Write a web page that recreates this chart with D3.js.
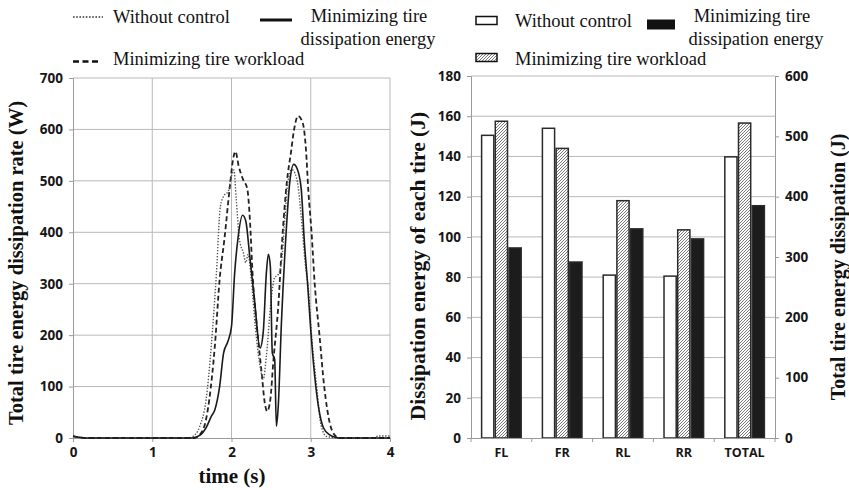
<!DOCTYPE html>
<html>
<head>
<meta charset="utf-8">
<script src="https://cdn.jsdelivr.net/npm/d3@7"></script>
<style>
  html, body { margin: 0; padding: 0; background: #fff; }
  svg { display: block; }
  .tick-label { font-family: "Open Sans", sans-serif; font-weight: 700; font-size: 13.5px; fill: #161616; }
  .cat-label { font-family: "Open Sans", sans-serif; font-weight: 700; font-size: 12.5px; fill: #161616; }
  .legend { font-family: "Liberation Serif", "Times New Roman", serif; font-size: 18.5px; fill: #111; }
  .title { font-family: "Liberation Serif", "Times New Roman", serif; font-weight: 700; font-size: 20px; fill: #111; }
</style>
</head>
<body>
<svg id="chart" width="849" height="490"></svg>
<script>
// ---- Left panel: total tire energy dissipation rate over time ----
const timeNoControl = [0, 0.15, 1.45, 1.55, 1.6, 1.68, 1.745, 1.81, 1.86, 1.9, 1.96, 2.0, 2.03, 2.06, 2.1, 2.15, 2.18, 2.21, 2.25, 2.3, 2.36, 2.4, 2.44, 2.5, 2.545, 2.59, 2.63, 2.67, 2.71, 2.76, 2.8, 2.84, 2.88, 2.93, 2.97, 3.01, 3.075, 3.13, 3.2, 3.4, 3.8, 3.85, 4.0];
const rateNoControl = [3, 0, 0, 8, 23, 75, 179, 321, 451, 470, 480, 510, 521, 464, 386, 360, 341, 357, 308, 217, 140, 114, 159, 269, 312, 318, 341, 419, 497, 522, 515, 490, 430, 340, 290, 200, 100, 25, 3, 0, 0, 4, 4];

const timeDissipation = [0, 0.18, 1.5, 1.6, 1.68, 1.745, 1.79, 1.85, 1.9, 1.955, 2.0, 2.04, 2.08, 2.14, 2.18, 2.23, 2.29, 2.36, 2.4, 2.44, 2.465, 2.49, 2.515, 2.545, 2.566, 2.59, 2.63, 2.684, 2.735, 2.785, 2.83, 2.88, 2.92, 2.96, 3.0, 3.05, 3.1, 3.16, 3.24, 3.32, 3.4, 4.0];
const rateDissipation = [4, 0, 0, 5, 20, 42, 55, 100, 165, 188, 217, 321, 386, 433, 422, 354, 269, 175, 205, 321, 357, 334, 165, 153, 23, 62, 224, 386, 497, 532, 523, 484, 380, 300, 210, 120, 58, 20, 6, 1, 0, 0];

const timeWorkload = [0, 0.18, 1.53, 1.64, 1.72, 1.79, 1.85, 1.91, 1.98, 2.02, 2.05, 2.09, 2.145, 2.2, 2.23, 2.27, 2.32, 2.38, 2.42, 2.45, 2.49, 2.53, 2.59, 2.64, 2.7, 2.75, 2.79, 2.84, 2.9, 2.94, 2.97, 3.01, 3.05, 3.11, 3.17, 3.24, 3.3, 3.36, 4.0];
const rateWorkload = [3, 0, 0, 16, 75, 179, 308, 386, 490, 542, 557, 529, 503, 484, 430, 308, 217, 127, 68, 52, 75, 153, 256, 386, 500, 555, 600, 626, 612, 560, 480, 400, 300, 200, 100, 29, 6, 0, 0];

const timeTicks = [0, 1, 2, 3, 4];
const rateTicks = [0, 100, 200, 300, 400, 500, 600, 700];

// ---- Right panel: dissipation energy per tire ----
const tireCategories = ["FL", "FR", "RL", "RR", "TOTAL"];
const energyNoControl = [150.5, 154, 81, 80.5, 466];
const energyWorkload = [157.5, 144, 118, 103.5, 522];
const energyDissipation = [94.5, 87.5, 104, 99, 385];
const energyTicks = [0, 20, 40, 60, 80, 100, 120, 140, 160, 180];
const totalTicks = [0, 100, 200, 300, 400, 500, 600];

const svg = d3.select("#chart");

// hatch fill for the workload bars
const defs = svg.append("defs");
const pat = defs.append("pattern")
  .attr("id", "hatch").attr("patternUnits", "userSpaceOnUse")
  .attr("width", 3).attr("height", 3);
pat.append("rect").attr("width", 3).attr("height", 3).attr("fill", "#fff");
pat.append("path").attr("d", "M-1,1 l2,-2 M0,3 l3,-3 M2,4 l2,-2")
  .attr("stroke", "#6a6a6a").attr("stroke-width", 0.9);

const gridColor = "#b8b8b8";
const axisColor = "#9a9a9a";

// ================= Left panel =================
const xT = d3.scaleLinear().domain([0, 4]).range([73, 390]);
const yR = d3.scaleLinear().domain([0, 700]).range([438, 78]);

const left = svg.append("g");
// grid
left.selectAll(".hg").data(rateTicks.slice(1)).join("line")
  .attr("x1", xT(0)).attr("x2", xT(4))
  .attr("y1", d => yR(d)).attr("y2", d => yR(d))
  .attr("stroke", gridColor).attr("stroke-width", 1);
left.selectAll(".vg").data(timeTicks.slice(1)).join("line")
  .attr("x1", d => xT(d)).attr("x2", d => xT(d))
  .attr("y1", yR(0)).attr("y2", yR(700))
  .attr("stroke", gridColor).attr("stroke-width", 1);

// axes
const axL = left.append("g").attr("transform", `translate(${xT(0)},0)`)
  .call(d3.axisLeft(yR).tickValues(rateTicks).tickSize(4).tickPadding(6));
const axB = left.append("g").attr("transform", `translate(0,${yR(0)})`)
  .call(d3.axisBottom(xT).tickValues(timeTicks).tickSize(4).tickPadding(5).tickFormat(d3.format("d")));
[axL, axB].forEach(a => {
  a.select(".domain").attr("stroke", axisColor);
  a.selectAll(".tick line").attr("stroke", axisColor);
  a.selectAll(".tick text").attr("class", "tick-label");
});

const line = d3.line().curve(d3.curveMonotoneX).x(d => xT(d[0])).y(d => yR(d[1]));
const series = [
  { t: timeWorkload, v: rateWorkload, dash: "5,3", width: 1.8, color: "#222" },
  { t: timeNoControl, v: rateNoControl, dash: "1.4,1.6", width: 1.4, color: "#555" },
  { t: timeDissipation, v: rateDissipation, dash: null, width: 1.6, color: "#1a1a1a" }
];
series.forEach(s => {
  left.append("path")
    .datum(s.t.map((t, i) => [t, s.v[i]]))
    .attr("d", line)
    .attr("fill", "none")
    .attr("stroke", s.color)
    .attr("stroke-width", s.width)
    .attr("stroke-dasharray", s.dash)
    .attr("stroke-linejoin", "round");
});

left.append("text").attr("class", "title")
  .attr("transform", `translate(23,263) rotate(-90)`)
  .attr("text-anchor", "middle")
  .style("font-size", "20.5px")
  .text("Total tire energy dissipation rate (W)");
left.append("text").attr("class", "title")
  .attr("x", 232).attr("y", 483).attr("text-anchor", "middle")
  .style("font-size", "21px")
  .text("time (s)");

// left legend
const lg = svg.append("g");
lg.append("line").attr("x1", 73).attr("x2", 103).attr("y1", 17).attr("y2", 17)
  .attr("stroke", "#333").attr("stroke-width", 1.6).attr("stroke-dasharray", "1.6,1.6");
lg.append("text").attr("class", "legend").attr("x", 113).attr("y", 23).text("Without control");
lg.append("line").attr("x1", 260).attr("x2", 292).attr("y1", 20).attr("y2", 20)
  .attr("stroke", "#111").attr("stroke-width", 3);
lg.append("text").attr("class", "legend").attr("x", 369).attr("y", 22).attr("text-anchor", "middle").text("Minimizing tire");
lg.append("text").attr("class", "legend").attr("x", 368).attr("y", 45).attr("text-anchor", "middle").text("dissipation energy");
lg.append("line").attr("x1", 73).attr("x2", 101).attr("y1", 61.5).attr("y2", 61.5)
  .attr("stroke", "#111").attr("stroke-width", 2.6).attr("stroke-dasharray", "6,3.5");
lg.append("text").attr("class", "legend").attr("x", 113).attr("y", 65).text("Minimizing tire workload");

// ================= Right panel =================
const x0 = d3.scaleBand().domain(tireCategories).range([471, 775]).padding(0);
const seriesKeys = ["none", "workload", "dissipation"];
const x1 = d3.scaleBand().domain(seriesKeys).range([0, x0.bandwidth()]).paddingInner(0).paddingOuter(0.72);
const yE = d3.scaleLinear().domain([0, 180]).range([438, 76]);
const yTot = d3.scaleLinear().domain([0, 600]).range([438, 76]);

const right = svg.append("g");
right.selectAll(".hg").data(energyTicks.slice(1)).join("line")
  .attr("x1", 471).attr("x2", 775)
  .attr("y1", d => yE(d)).attr("y2", d => yE(d))
  .attr("stroke", gridColor).attr("stroke-width", 1);

const fills = { none: "#fff", workload: "url(#hatch)", dissipation: "#1c1c1c" };
const values = { none: energyNoControl, workload: energyWorkload, dissipation: energyDissipation };
const barData = [];
tireCategories.forEach((c, i) => {
  seriesKeys.forEach(k => barData.push({ cat: c, key: k, value: values[k][i] }));
});
right.selectAll(".bar").data(barData).join("rect")
  .attr("x", d => x0(d.cat) + x1(d.key) + 0.75)
  .attr("width", x1.bandwidth() - 1.5)
  .attr("y", d => (d.cat === "TOTAL" ? yTot(d.value) : yE(d.value)))
  .attr("height", d => 438 - (d.cat === "TOTAL" ? yTot(d.value) : yE(d.value)))
  .attr("fill", d => fills[d.key])
  .attr("stroke", "#2a2a2a").attr("stroke-width", 1.5);

const axE = right.append("g").attr("transform", "translate(471,0)")
  .call(d3.axisLeft(yE).tickValues(energyTicks).tickSize(4).tickPadding(6));
const axT = right.append("g").attr("transform", "translate(775,0)")
  .call(d3.axisRight(yTot).tickValues(totalTicks).tickSize(4).tickPadding(6));
const axC = right.append("g").attr("transform", "translate(0,438)")
  .call(d3.axisBottom(x0).tickSize(0).tickPadding(10));
[axE, axT, axC].forEach(a => {
  a.select(".domain").attr("stroke", axisColor);
  a.selectAll(".tick line").attr("stroke", axisColor);
  a.selectAll(".tick text").attr("class", "tick-label");
});
axC.selectAll(".tick text").attr("class", "cat-label");
// category separators below the axis
right.selectAll(".sep").data(tireCategories.map(c => x0(c)).concat([775])).join("line")
  .attr("x1", d => d).attr("x2", d => d).attr("y1", 438).attr("y2", 442)
  .attr("stroke", axisColor);

right.append("text").attr("class", "title")
  .attr("transform", `translate(425,266) rotate(-90)`)
  .attr("text-anchor", "middle")
  .style("font-size", "21.5px")
  .text("Dissipation energy of each tire (J)");
right.append("text").attr("class", "title")
  .attr("transform", `translate(845,267) rotate(-90)`)
  .attr("text-anchor", "middle")
  .style("font-size", "20px")
  .text("Total tire energy dissipation (J)");

// right legend
const rg = svg.append("g");
rg.append("rect").attr("x", 476).attr("y", 16.5).attr("width", 21).attr("height", 8)
  .attr("fill", "#fff").attr("stroke", "#111").attr("stroke-width", 1.5);
rg.append("text").attr("class", "legend").attr("x", 515).attr("y", 27).text("Without control");
rg.append("rect").attr("x", 647).attr("y", 19.5).attr("width", 28).attr("height", 10)
  .attr("fill", "#111");
rg.append("text").attr("class", "legend").attr("x", 752).attr("y", 22).attr("text-anchor", "middle").text("Minimizing tire");
rg.append("text").attr("class", "legend").attr("x", 756).attr("y", 45).attr("text-anchor", "middle").text("dissipation energy");
rg.append("rect").attr("x", 476).attr("y", 53.5).attr("width", 21).attr("height", 8)
  .attr("fill", "url(#hatch)").attr("stroke", "#111").attr("stroke-width", 1.5);
rg.append("text").attr("class", "legend").attr("x", 515).attr("y", 65).text("Minimizing tire workload");
</script>
</body>
</html>
